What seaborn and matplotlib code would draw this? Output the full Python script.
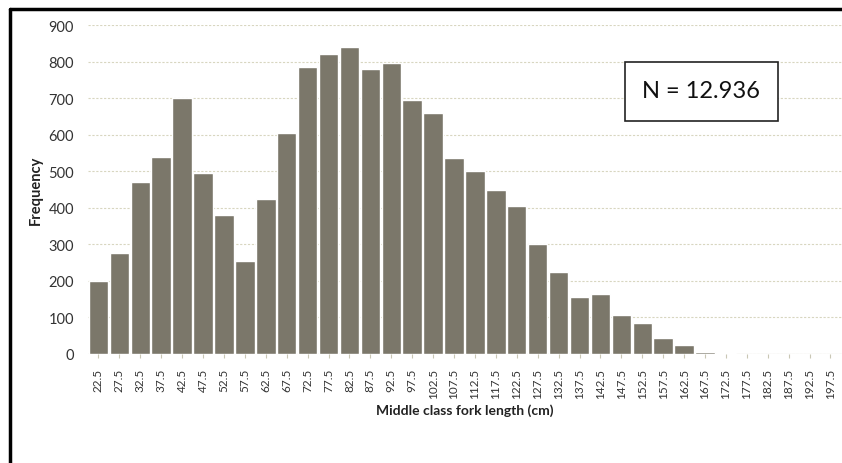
import matplotlib
matplotlib.use("Agg")
import matplotlib.pyplot as plt
import seaborn as sns
import pandas as pd
from matplotlib.lines import Line2D
from matplotlib.patches import Rectangle

# bin centres (cm) and counts
length_bins = ["22.5", "27.5", "32.5", "37.5", "42.5", "47.5", "52.5", "57.5",
               "62.5", "67.5", "72.5", "77.5", "82.5", "87.5", "92.5", "97.5",
               "102.5", "107.5", "112.5", "117.5", "122.5", "127.5", "132.5",
               "137.5", "142.5", "147.5", "152.5", "157.5", "162.5", "167.5",
               "172.5", "177.5", "182.5", "187.5", "192.5", "197.5"]
frequency = [200, 275, 470, 540, 700, 495, 380, 255, 425, 605, 785, 820, 840,
             780, 795, 695, 660, 535, 500, 450, 405, 300, 225, 155, 165, 108,
             85, 45, 25, 5, 2, 1, 1, 1, 0, 0]
y_ticks = [0, 100, 200, 300, 400, 500, 600, 700, 800, 900]
n_label = "N = 12.936"

sns.set_style("white")
plt.rcParams["font.family"] = ["Lato", "DejaVu Sans"]

df = pd.DataFrame({"bin": length_bins, "freq": frequency})

fig = plt.figure(figsize=(8.42, 4.64), dpi=100)
ax = fig.add_axes([88 / 842, 1 - 355 / 464, 1 - 88 / 842, (355 - 26) / 464])

sns.barplot(data=df, x="bin", y="freq", color="#7b776a", saturation=1,
            width=0.93, ax=ax, zorder=2)

ax.set_ylim(0, 900)
ax.set_xlim(-0.5, 35.55)
ax.set_yticks(y_ticks)
ax.yaxis.grid(True, color="#d8d6c0", linestyle=(0, (2, 1.5)), linewidth=0.8, zorder=0)
ax.set_axisbelow(True)
for s in ax.spines.values():
    s.set_visible(False)
ax.axhline(0, color="#c9c7b5", linewidth=0.8, zorder=1)

ax.tick_params(axis="y", labelsize=10.5, colors="#333333", pad=10, length=0)
ax.tick_params(axis="x", labelsize=8.5, colors="#333333", rotation=90, pad=7,
               length=3, bottom=True, color="#c9c7b5")

ax.set_xlabel("Middle class fork length (cm)", fontsize=10, fontweight="bold",
              color="#222222", labelpad=4)
ax.set_ylabel("Frequency", fontsize=10.5, fontweight="bold", color="#222222",
              labelpad=4)

# boxed sample-size note
ax.add_patch(Rectangle((0.712, 0.708), 0.203, 0.18, transform=ax.transAxes,
                       facecolor="white", edgecolor="#222222", linewidth=1.2,
                       zorder=5))
ax.text(0.813, 0.80, n_label, transform=ax.transAxes, fontsize=17,
        ha="center", va="center", color="#111111", zorder=6)

# outer frame (only left and top edges show in the scan)
fig.add_artist(Line2D([10 / 842, 10 / 842], [0, 1 - 10 / 464],
                      transform=fig.transFigure, color="black", linewidth=2.5))
fig.add_artist(Line2D([10 / 842, 1], [1 - 10 / 464, 1 - 10 / 464],
                      transform=fig.transFigure, color="black", linewidth=2.5))

fig.savefig("out.png", dpi=100)
